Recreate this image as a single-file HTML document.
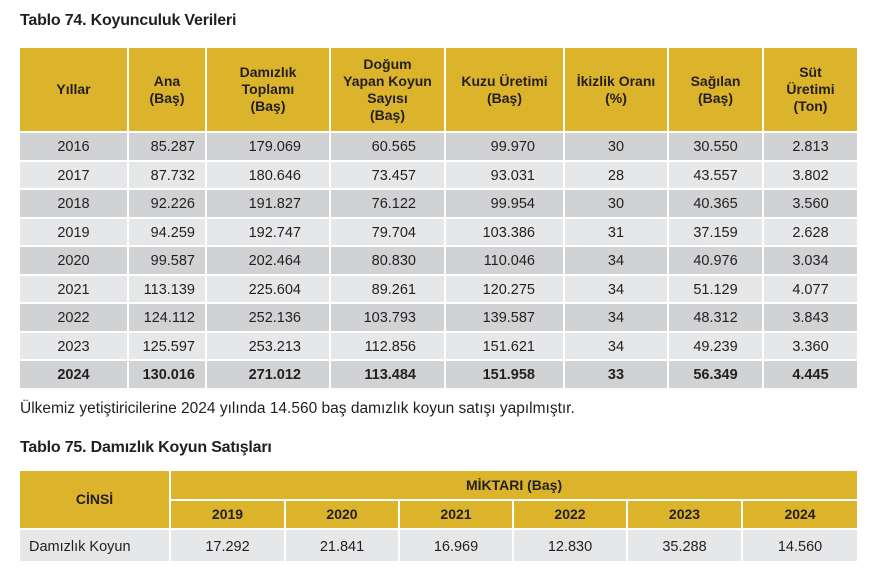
<!DOCTYPE html>
<html><head><meta charset="utf-8"><style>
body{margin:0;width:869px;height:581px;background:#fff;font-family:"Liberation Sans",sans-serif;color:#231f20;position:relative;overflow:hidden}
.t{position:absolute;left:20px;font-weight:bold;font-size:16px;letter-spacing:-0.2px}
table{position:absolute;left:20px;border-collapse:collapse;table-layout:fixed;width:837px}
td{border:2px solid #fff;padding:2px 0 0 0;font-size:14.5px;white-space:nowrap}
th{border:2px solid #fff;background:#dcb42b;font-size:14px;line-height:17px;font-weight:bold;padding:0}
tr.a td{background:#d1d2d4}tr.b td{background:#e6e7e8}
table{border:none}
tr td:first-child,tr th:first-child{border-left:none}
tr td:last-child,tr th:last-child{border-right:none}
thead tr:first-child th{border-top:none}
.c{text-align:center}.r1{text-align:right;padding-right:10px}.r2{text-align:right;padding-right:28px}
.bold td{font-weight:bold}
</style></head><body>
<div class="t" style="top:12px">Tablo 74. Koyunculuk Verileri</div>
<table style="top:48px">
<colgroup><col style="width:108px"><col style="width:78px"><col style="width:124px"><col style="width:115px"><col style="width:119px"><col style="width:104px"><col style="width:95px"><col style="width:94px"></colgroup>
<thead><tr style="height:84px"><th>Yıllar</th><th>Ana<br>(Baş)</th><th>Damızlık<br>Toplamı<br>(Baş)</th><th>Doğum<br>Yapan Koyun<br>Sayısı<br>(Baş)</th><th>Kuzu Üretimi<br>(Baş)</th><th>İkizlik Oranı<br>(%)</th><th>Sağılan<br>(Baş)</th><th>Süt<br>Üretimi<br>(Ton)</th></tr></thead>
<tbody>
<tr class="a" style="height:28.5px"><td class="c">2016</td><td class="r1">85.287</td><td class="r2">179.069</td><td class="r2">60.565</td><td class="r2">99.970</td><td class="c">30</td><td class="c">30.550</td><td class="c">2.813</td></tr>
<tr class="b" style="height:28.5px"><td class="c">2017</td><td class="r1">87.732</td><td class="r2">180.646</td><td class="r2">73.457</td><td class="r2">93.031</td><td class="c">28</td><td class="c">43.557</td><td class="c">3.802</td></tr>
<tr class="a" style="height:28.5px"><td class="c">2018</td><td class="r1">92.226</td><td class="r2">191.827</td><td class="r2">76.122</td><td class="r2">99.954</td><td class="c">30</td><td class="c">40.365</td><td class="c">3.560</td></tr>
<tr class="b" style="height:28.5px"><td class="c">2019</td><td class="r1">94.259</td><td class="r2">192.747</td><td class="r2">79.704</td><td class="r2">103.386</td><td class="c">31</td><td class="c">37.159</td><td class="c">2.628</td></tr>
<tr class="a" style="height:28.5px"><td class="c">2020</td><td class="r1">99.587</td><td class="r2">202.464</td><td class="r2">80.830</td><td class="r2">110.046</td><td class="c">34</td><td class="c">40.976</td><td class="c">3.034</td></tr>
<tr class="b" style="height:28.5px"><td class="c">2021</td><td class="r1">113.139</td><td class="r2">225.604</td><td class="r2">89.261</td><td class="r2">120.275</td><td class="c">34</td><td class="c">51.129</td><td class="c">4.077</td></tr>
<tr class="a" style="height:28.5px"><td class="c">2022</td><td class="r1">124.112</td><td class="r2">252.136</td><td class="r2">103.793</td><td class="r2">139.587</td><td class="c">34</td><td class="c">48.312</td><td class="c">3.843</td></tr>
<tr class="b" style="height:28.5px"><td class="c">2023</td><td class="r1">125.597</td><td class="r2">253.213</td><td class="r2">112.856</td><td class="r2">151.621</td><td class="c">34</td><td class="c">49.239</td><td class="c">3.360</td></tr>
<tr class="a bold" style="height:28.5px"><td class="c">2024</td><td class="r1">130.016</td><td class="r2">271.012</td><td class="r2">113.484</td><td class="r2">151.958</td><td class="c">33</td><td class="c">56.349</td><td class="c">4.445</td></tr>
</tbody></table>
<div style="position:absolute;left:20px;top:400px;font-size:15.5px">Ülkemiz yetiştiricilerine 2024 yılında 14.560 baş damızlık koyun satışı yapılmıştır.</div>
<div class="t" style="top:439px">Tablo 75. Damızlık Koyun Satışları</div>
<table style="top:471px">
<colgroup><col style="width:150px"><col style="width:115px"><col style="width:114px"><col style="width:114px"><col style="width:114px"><col style="width:115px"><col style="width:115px"></colgroup>
<thead><tr style="height:29px"><th rowspan="2">CİNSİ</th><th colspan="6">MİKTARI (Baş)</th></tr>
<tr style="height:29px"><th>2019</th><th>2020</th><th>2021</th><th>2022</th><th>2023</th><th>2024</th></tr></thead>
<tbody><tr class="b" style="height:33px"><td style="padding-left:9px">Damızlık Koyun</td><td class="c">17.292</td><td class="c">21.841</td><td class="c">16.969</td><td class="c">12.830</td><td class="c">35.288</td><td class="c">14.560</td></tr></tbody>
</table>
</body></html>
